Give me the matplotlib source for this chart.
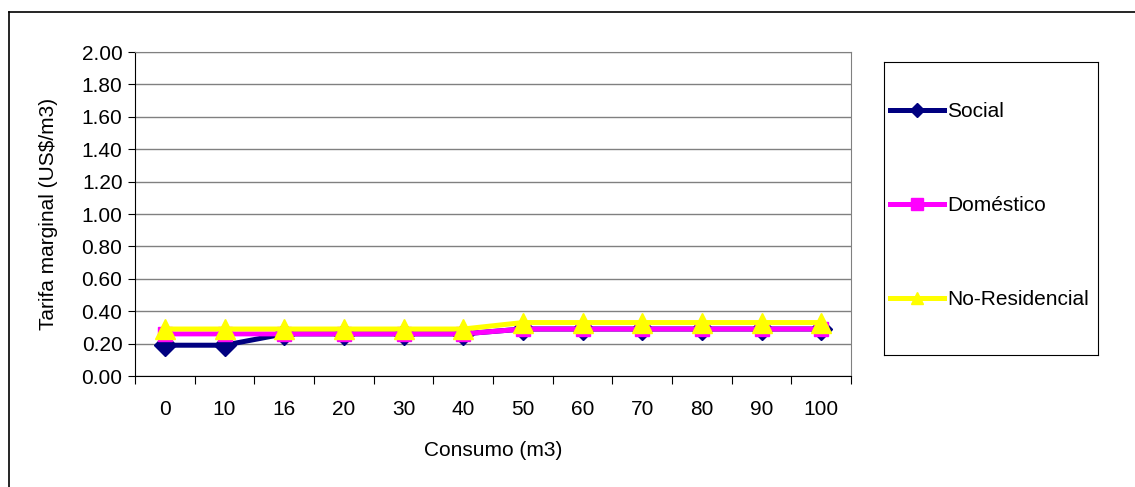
import matplotlib.pyplot as plt
from matplotlib.lines import Line2D

plt.rcParams['font.family'] = ['Liberation Sans', 'DejaVu Sans']

consumo = ["0", "10", "16", "20", "30", "40", "50", "60", "70", "80", "90", "100"]
social = [0.19, 0.19, 0.26, 0.26, 0.26, 0.26, 0.29, 0.29, 0.29, 0.29, 0.29, 0.29]
domestico = [0.26, 0.26, 0.26, 0.26, 0.26, 0.26, 0.29, 0.29, 0.29, 0.29, 0.29, 0.29]
no_residencial = [0.29, 0.29, 0.29, 0.29, 0.29, 0.29, 0.33, 0.33, 0.33, 0.33, 0.33, 0.33]
y_ticks = [0.0, 0.2, 0.4, 0.6, 0.8, 1.0, 1.2, 1.4, 1.6, 1.8, 2.0]


def main():
    W, H = 1135, 487
    fs = 15
    fig = plt.figure(figsize=(W / 100, H / 100), dpi=100)
    ax = fig.add_axes([135 / W, 1 - 376 / H, (851 - 135) / W, (376 - 52) / H])

    x = range(len(consumo))
    ax.plot(x, social, color="#000080", lw=3.6, marker="D", ms=11,
            mec="#000080", label="Social")
    ax.plot(x, domestico, color="#FF00FF", lw=3.6, marker="s", ms=10,
            mec="#FF00FF", label="Doméstico")
    ax.plot(x, no_residencial, color="#FFFF00", lw=3.6, marker="^", ms=14,
            mec="#FFFF00", label="No-Residencial")

    ax.set_xlim(-0.5, len(consumo) - 0.5)
    ax.set_ylim(0, 2.0)
    ax.set_yticks(y_ticks)
    ax.set_yticklabels([f"{v:.2f}" for v in y_ticks])
    ax.set_xticks([i + 0.5 for i in range(-1, len(consumo))])
    ax.set_xticklabels([])
    ax.set_xticks(list(x), minor=True)
    ax.set_xticklabels(consumo, minor=True)
    ax.tick_params(axis="x", which="major", length=6, direction="out", color="black")
    ax.tick_params(axis="x", which="minor", length=0, pad=17, labelsize=fs)
    ax.tick_params(axis="y", length=5, direction="out", labelsize=fs, pad=4)

    ax.grid(axis="y", color="#808080", lw=1)
    ax.set_axisbelow(True)
    for s in ["top", "right"]:
        ax.spines[s].set_color("#808080")
    for s in ["left", "bottom"]:
        ax.spines[s].set_color("black")

    ax.set_ylabel("Tarifa marginal (US\\$/m3)", fontsize=fs, labelpad=17)
    ax.set_xlabel("Consumo (m3)", fontsize=fs, labelpad=16)

    # legend box
    lax = fig.add_axes([884 / W, 1 - 355 / H, (1098 - 884) / W, (355 - 62) / H])
    lax.set_xticks([])
    lax.set_yticks([])
    for s in lax.spines.values():
        s.set_color("black")
    h, l = ax.get_legend_handles_labels()
    handles = [
        Line2D([], [], color="#000080", lw=3.6, marker="D", ms=7, mec="#000080"),
        Line2D([], [], color="#FF00FF", lw=3.6, marker="s", ms=8, mec="#FF00FF"),
        Line2D([], [], color="#FFFF00", lw=3.6, marker="^", ms=9, mec="#FFFF00"),
    ]
    lax.legend(handles, l, loc="center left", frameon=False, fontsize=fs,
               labelspacing=3.6, handlelength=2.6, handletextpad=0.15,
               borderaxespad=0.0, borderpad=0.3, bbox_to_anchor=(0, 0.51))

    # outer chart frame (top and left only visible)
    fig.add_artist(Line2D([9 / W, 1], [1 - 12 / H, 1 - 12 / H], color="black", lw=1.2))
    fig.add_artist(Line2D([9 / W, 9 / W], [0, 1 - 12 / H], color="black", lw=1.2))

    fig.savefig("out.png", dpi=100)


if __name__ == "__main__":
    main()
